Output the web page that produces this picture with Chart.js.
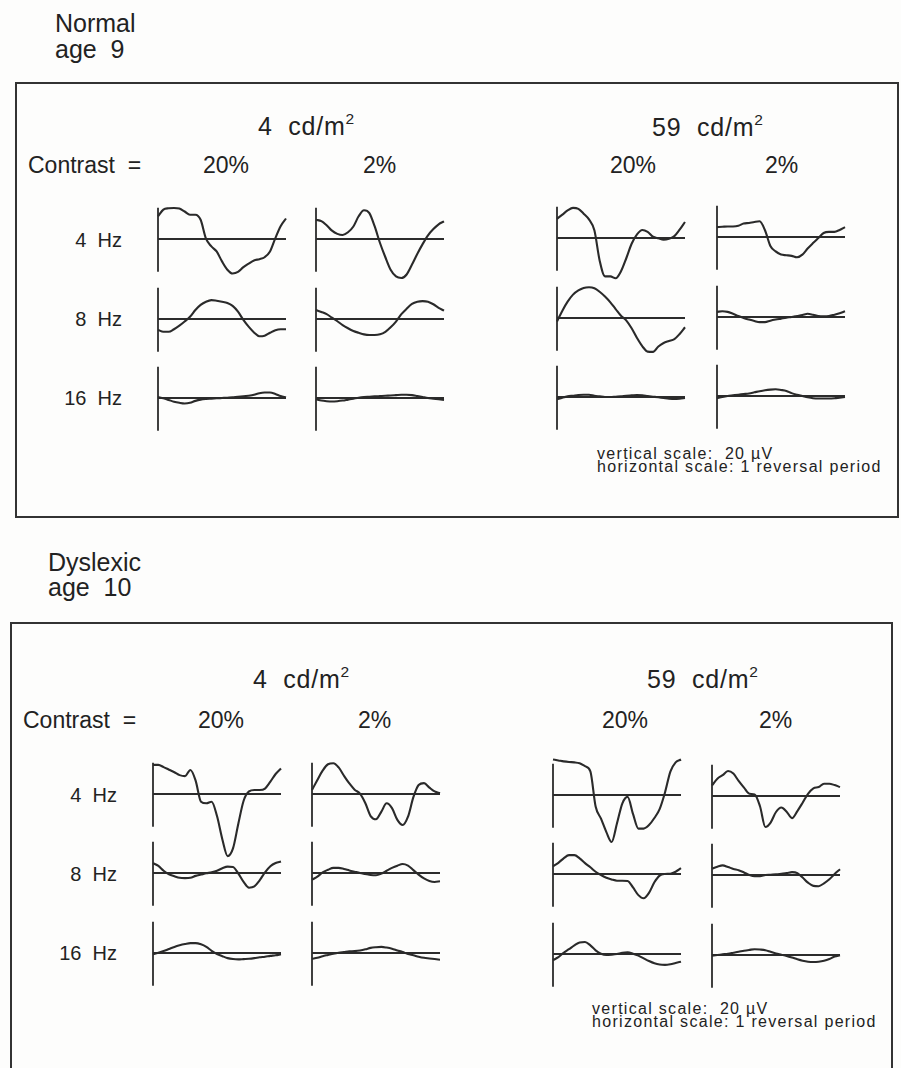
<!DOCTYPE html>
<html><head><meta charset="utf-8">
<script src="https://cdn.jsdelivr.net/npm/chart.js@4.4.1/dist/chart.umd.min.js"></script>
<style>
html,body{margin:0;padding:0;background:#fff;}
#page{position:relative;width:901px;height:1068px;overflow:hidden;font-family:"Liberation Sans",Arial,Helvetica,sans-serif;color:#222;background:#fdfdfc;}
.t{position:absolute;white-space:pre;line-height:1;}
.box{position:absolute;border:2px solid #333;box-sizing:border-box;}
canvas{position:absolute;}
.sup{font-size:62%;position:relative;top:-0.68em;}
</style>
</head><body><div id="page"></div>
<script>
// ---------------- DATA ----------------
// time within one reversal period (fraction of period)
const TIME = [0,0.042,0.083,0.125,0.167,0.208,0.25,0.292,0.333,0.375,0.417,0.458,0.5,0.542,0.583,0.625,0.667,0.708,0.75,0.792,0.833,0.875,0.917,0.958,1];

const GROUPS = ["Normal\nage  9", "Dyslexic\nage  10"];
const LUMINANCES = ["4", "59"];           // cd/m²
const CONTRASTS = ["20%", "2%"];
const FREQUENCIES = ["4  Hz", "8  Hz", "16  Hz"];
const NOTE_LINES = ["vertical scale:  20 \u00b5V", "horizontal scale: 1 reversal period"];
const VERTICAL_SCALE_UV = 20;            // length of each vertical axis bar (µV)

// amplitudes in µV, Normal age 9
const normal_4cd_20_4hz  = [7.1,9.2,9.6,9.7,9.5,8.6,7.6,7.6,6.0,0.1,-2.3,-3.9,-7.0,-9.6,-10.8,-10.3,-8.8,-7.7,-6.7,-6.3,-5.7,-3.9,0.3,4.0,6.4];
const normal_4cd_2_4hz   = [6.0,5.6,4.3,2.6,1.6,1.25,2.1,3.9,7.1,9.0,8.1,4.0,-1.25,-5.7,-9.6,-11.7,-12.2,-11.1,-8.0,-4.6,-1.6,1.15,3.1,4.6,5.5];
const normal_59cd_20_4hz = [6.0,7.3,8.6,9.4,9.1,7.6,5.8,2.4,-7.0,-12.0,-12.0,-12.6,-10.4,-6.25,-1.8,1.15,2.5,1.9,0.4,-0.1,-0.5,-0.2,0.6,2.6,5.0];
const normal_59cd_2_4hz  = [3.1,3.2,3.3,3.3,3.5,4.2,4.4,4.7,4.9,2.1,-2.8,-4.5,-5.5,-5.7,-5.9,-6.35,-5.5,-3.6,-1.9,-0.3,1.25,1.6,1.6,2.2,3.1];
const normal_4cd_20_8hz  = [-3.4,-4.0,-4.0,-3.2,-2.1,-0.8,0.7,2.8,4.4,5.4,5.9,5.7,5.4,5.0,4.1,2.3,-0.3,-2.4,-4.2,-5.4,-5.2,-4.3,-3.5,-3.2,-3.2];
const normal_4cd_2_8hz   = [2.8,2.2,1.5,0.4,-0.7,-1.9,-2.9,-3.75,-4.3,-4.8,-5.0,-5.0,-4.8,-4.0,-2.6,-0.8,1.5,3.2,4.7,5.4,5.6,5.4,4.6,3.5,2.6];
const normal_59cd_20_8hz = [-1.1,2.3,5.1,7.3,8.6,9.4,9.6,9.3,8.2,6.7,4.9,2.8,0.7,-0.8,-3.2,-6.25,-8.85,-10.5,-10.6,-8.9,-7.8,-7.2,-6.6,-5.0,-2.9];
const normal_59cd_2_8hz  = [1.6,1.8,1.6,1.0,0.3,-0.3,-0.8,-1.25,-1.6,-1.6,-1.15,-0.8,-0.5,-0.2,0,0.3,0.6,1.0,0.7,0.3,0.2,0.3,0.7,1.15,1.8];
const normal_4cd_20_16hz = [0.3,-0.1,-0.6,-1.15,-1.5,-1.7,-1.5,-0.9,-0.5,-0.3,-0.2,-0.1,0,0.1,0.2,0.4,0.5,0.7,1.0,1.5,1.7,1.7,1.25,0.6,0.2];
const normal_4cd_2_16hz  = [-0.4,-0.8,-1.0,-1.1,-1.0,-0.8,-0.5,-0.2,0.1,0.3,0.4,0.5,0.6,0.7,0.8,0.9,1.0,1.0,0.9,0.6,0.3,0,-0.2,-0.4,-0.6];
const normal_59cd_20_16hz= [-0.7,-0.2,0.2,0.4,0.6,0.7,0.7,0.4,0.2,0,0,0.1,0.2,0.4,0.5,0.6,0.5,0.3,0.1,-0.1,-0.3,-0.5,-0.6,-0.5,-0.3];
const normal_59cd_2_16hz = [-0.7,-0.3,0,0.2,0.4,0.6,0.8,1.15,1.5,1.8,2.0,2.1,1.9,1.6,0.9,0.4,0,-0.4,-0.7,-0.8,-0.8,-0.8,-0.7,-0.5,-0.3];

// amplitudes in µV, Dyslexic age 10
const dyslexic_4cd_20_4hz  = [9.1,9.1,8.4,7.6,6.8,5.9,5.6,7.5,4.2,-2.4,-2.9,-2.4,-6.9,-14.2,-19.4,-17.0,-9.2,-2.1,0.8,1.25,1.25,1.7,3.85,6.25,8.0];
const dyslexic_4cd_2_4hz   = [1.25,4.4,7.3,9.3,9.6,8.3,5.7,3.3,1.35,0.1,-2.9,-6.9,-7.9,-5.5,-2.9,-4.4,-8.1,-9.7,-7.1,-1.0,2.8,3.4,2.0,0.8,0.2];
const dyslexic_59cd_20_4hz = [11.1,10.8,10.5,10.3,10.2,9.9,9.0,7.4,-3.6,-7.4,-11.6,-14.7,-8.85,-2.6,-0.6,-5.9,-10.5,-10.5,-9.4,-7.2,-4.4,0.8,7.3,10.2,11.1];
const dyslexic_59cd_2_4hz  = [3.3,5.4,6.5,7.8,7.0,4.7,2.6,0.7,0.5,-3.2,-9.7,-8.3,-5.0,-3.6,-4.9,-6.9,-4.7,-2.1,0.7,2.4,2.8,3.85,3.85,3.4,2.8];
const dyslexic_4cd_20_8hz  = [3.1,2.2,0.7,-0.4,-1.0,-1.5,-1.6,-1.5,-0.9,-0.5,-0.1,0.2,0.7,1.5,2.0,1.9,-0.2,-2.8,-4.6,-4.2,-2.3,0.2,2.1,3.1,3.6];
const dyslexic_4cd_2_8hz   = [-2.1,-1.15,0.2,1.0,1.6,1.6,1.25,0.8,0.4,0,-0.3,-0.6,-0.7,-0.2,0.7,1.6,2.3,2.8,2.3,0.9,-0.5,-1.7,-2.5,-2.8,-2.6];
const dyslexic_59cd_20_8hz = [2.4,3.5,4.9,5.9,5.9,4.9,3.4,2.1,0.7,-0.3,-1.15,-1.7,-2.1,-2.1,-2.2,-4.2,-6.6,-7.6,-5.9,-2.6,-0.5,0,0.1,0.7,1.8];
const dyslexic_59cd_2_8hz  = [2.0,2.6,3.0,2.5,1.9,1.5,0.8,0,-0.4,-0.4,0,0.1,0.2,0.4,0.6,0.9,0.6,-0.8,-2.4,-3.4,-3.5,-2.6,-1.35,0.3,1.8];
const dyslexic_4cd_20_16hz = [-0.4,0.1,0.6,1.25,1.9,2.4,2.8,3.1,3.1,2.7,1.9,0.7,-0.3,-1.0,-1.6,-1.9,-2.0,-1.9,-1.8,-1.6,-1.35,-1.15,-0.9,-0.7,-0.4];
const dyslexic_4cd_2_16hz  = [-1.8,-1.5,-1.0,-0.6,-0.2,0.1,0.3,0.5,0.6,0.8,1.15,1.6,1.8,1.9,1.7,1.35,0.8,0.3,-0.3,-0.7,-1.15,-1.5,-1.7,-1.9,-2.1];
const dyslexic_59cd_20_16hz= [-1.9,-1.0,0.4,1.5,2.7,3.6,3.75,2.7,1.15,0.1,-0.3,-0.2,0,0.4,0.5,0.1,-0.5,-1.35,-2.2,-2.9,-3.3,-3.4,-3.2,-2.8,-2.4];
const dyslexic_59cd_2_16hz = [-0.2,0,0.2,0.4,0.7,1.0,1.35,1.6,1.8,1.7,1.5,1.0,0.5,0.1,-0.3,-0.8,-1.35,-1.8,-2.1,-2.2,-2.1,-1.8,-1.25,-0.5,-0.1];

// grid of traces: [group][frequency row][column: 4cd20, 4cd2, 59cd20, 59cd2]
const TRACES = [
  [[normal_4cd_20_4hz, normal_4cd_2_4hz, normal_59cd_20_4hz, normal_59cd_2_4hz],
   [normal_4cd_20_8hz, normal_4cd_2_8hz, normal_59cd_20_8hz, normal_59cd_2_8hz],
   [normal_4cd_20_16hz, normal_4cd_2_16hz, normal_59cd_20_16hz, normal_59cd_2_16hz]],
  [[dyslexic_4cd_20_4hz, dyslexic_4cd_2_4hz, dyslexic_59cd_20_4hz, dyslexic_59cd_2_4hz],
   [dyslexic_4cd_20_8hz, dyslexic_4cd_2_8hz, dyslexic_59cd_20_8hz, dyslexic_59cd_2_8hz],
   [dyslexic_4cd_20_16hz, dyslexic_4cd_2_16hz, dyslexic_59cd_20_16hz, dyslexic_59cd_2_16hz]]
];

// ---------------- LAYOUT ----------------
const LAYOUT = [
  { colX:[158,316,557,717], rowY:[239,319,398], colDy:[0,0,-1,-2],
    box:{l:15,t:82,w:884,h:436},
    labelX:55, labelBase:[32,58],
    lumX:[258,652], lumBase:[135,136],
    contrastX:28, contrastBase:173, pctX:[203,363,610,765],
    freqRight:122, freqBase:[247,326,405],
    noteX:597, noteBase:[460,473] },
  { colX:[153,312,553,712], rowY:[794,873,953], colDy:[0,0,1,1.5],
    box:{l:10,t:622,w:883,h:520},
    labelX:48, labelBase:[571,596],
    lumX:[253,647], lumBase:[688,688],
    contrastX:23, contrastBase:728, pctX:[198,358,602,759],
    freqRight:117, freqBase:[802,881,960],
    noteX:592, noteBase:[1015,1028] }
];
const CW = 140, CH = 150, PX_PER_PERIOD = 128, PX_PER_UV = 3.2;
const X_MIN = -4 / PX_PER_PERIOD, X_MAX = X_MIN + CW / PX_PER_PERIOD;
const Y_HALF = CH / 2 / PX_PER_UV;

const page = document.getElementById('page');
function text(str, left, base, size, opts) {
  opts = opts || {};
  const d = document.createElement('div');
  d.className = 't';
  d.style.fontSize = size + 'px';
  d.style.top = (base - 0.8465 * size) + 'px';
  if (opts.right !== undefined) { d.style.right = (901 - opts.right) + 'px'; d.style.textAlign = 'right'; }
  else d.style.left = left + 'px';
  if (opts.ls) d.style.letterSpacing = opts.ls + 'px';
  if (opts.sup) { d.textContent = str; const s = document.createElement('span'); s.className = 'sup'; s.textContent = opts.sup; d.appendChild(s); }
  else d.textContent = str;
  page.appendChild(d);
}

const axisPlugin = {
  id: 'vepAxes',
  beforeDatasetsDraw(chart) {
    const {ctx, scales:{x, y}} = chart;
    ctx.save();
    ctx.strokeStyle = '#2c2c2c';
    ctx.lineWidth = 1.8;
    ctx.beginPath();
    ctx.moveTo(x.getPixelForValue(0), y.getPixelForValue(VERTICAL_SCALE_UV * 0.49));
    ctx.lineTo(x.getPixelForValue(0), y.getPixelForValue(-VERTICAL_SCALE_UV * 0.51));
    ctx.moveTo(x.getPixelForValue(0), y.getPixelForValue(0));
    ctx.lineTo(x.getPixelForValue(1), y.getPixelForValue(0));
    ctx.stroke();
    ctx.restore();
  }
};

function makeChart(left, top, values) {
  const c = document.createElement('canvas');
  c.width = CW; c.height = CH;
  c.style.left = left + 'px'; c.style.top = top + 'px';
  c.style.width = CW + 'px'; c.style.height = CH + 'px';
  page.appendChild(c);
  new Chart(c, {
    type: 'line',
    data: { datasets: [{
      data: TIME.map((t, i) => ({x: t, y: values[i]})),
      borderColor: '#2a2a2a', borderWidth: 2.1, pointRadius: 0,
      cubicInterpolationMode: 'monotone', fill: false, clip: false
    }]},
    options: {
      responsive: false, animation: false, events: [], devicePixelRatio: 1,
      layout: { padding: 0 },
      plugins: { legend: {display: false}, tooltip: {enabled: false}, title: {display: false} },
      scales: {
        x: { type: 'linear', display: false, min: X_MIN, max: X_MAX },
        y: { type: 'linear', display: false, min: -Y_HALF, max: Y_HALF }
      }
    },
    plugins: [axisPlugin]
  });
}

LAYOUT.forEach((L, g) => {
  const b = document.createElement('div');
  b.className = 'box';
  b.style.left = L.box.l + 'px'; b.style.top = L.box.t + 'px';
  b.style.width = L.box.w + 'px'; b.style.height = L.box.h + 'px';
  page.appendChild(b);

  GROUPS[g].split('\n').forEach((line, i) => text(line, L.labelX, L.labelBase[i], 25));
  LUMINANCES.forEach((lum, i) => text(lum + '  cd/m', L.lumX[i], L.lumBase[i], 25, {sup: '2', ls: 0.8}));
  text('Contrast  =', L.contrastX, L.contrastBase, 23);
  [0,1,2,3].forEach(c => text(CONTRASTS[c % 2], L.pctX[c], L.contrastBase, 23));
  FREQUENCIES.forEach((f, r) => text(f, 0, L.freqBase[r], 20, {right: L.freqRight}));
  NOTE_LINES.forEach((n, i) => text(n, L.noteX, L.noteBase[i], 16, {ls: 1.3}));

  TRACES[g].forEach((row, r) => row.forEach((vals, c) => {
    const zx = L.colX[c], zy = L.rowY[r] + L.colDy[c];
    makeChart(zx - 4, zy - CH / 2, vals);
  }));
});
</script>
</body></html>
